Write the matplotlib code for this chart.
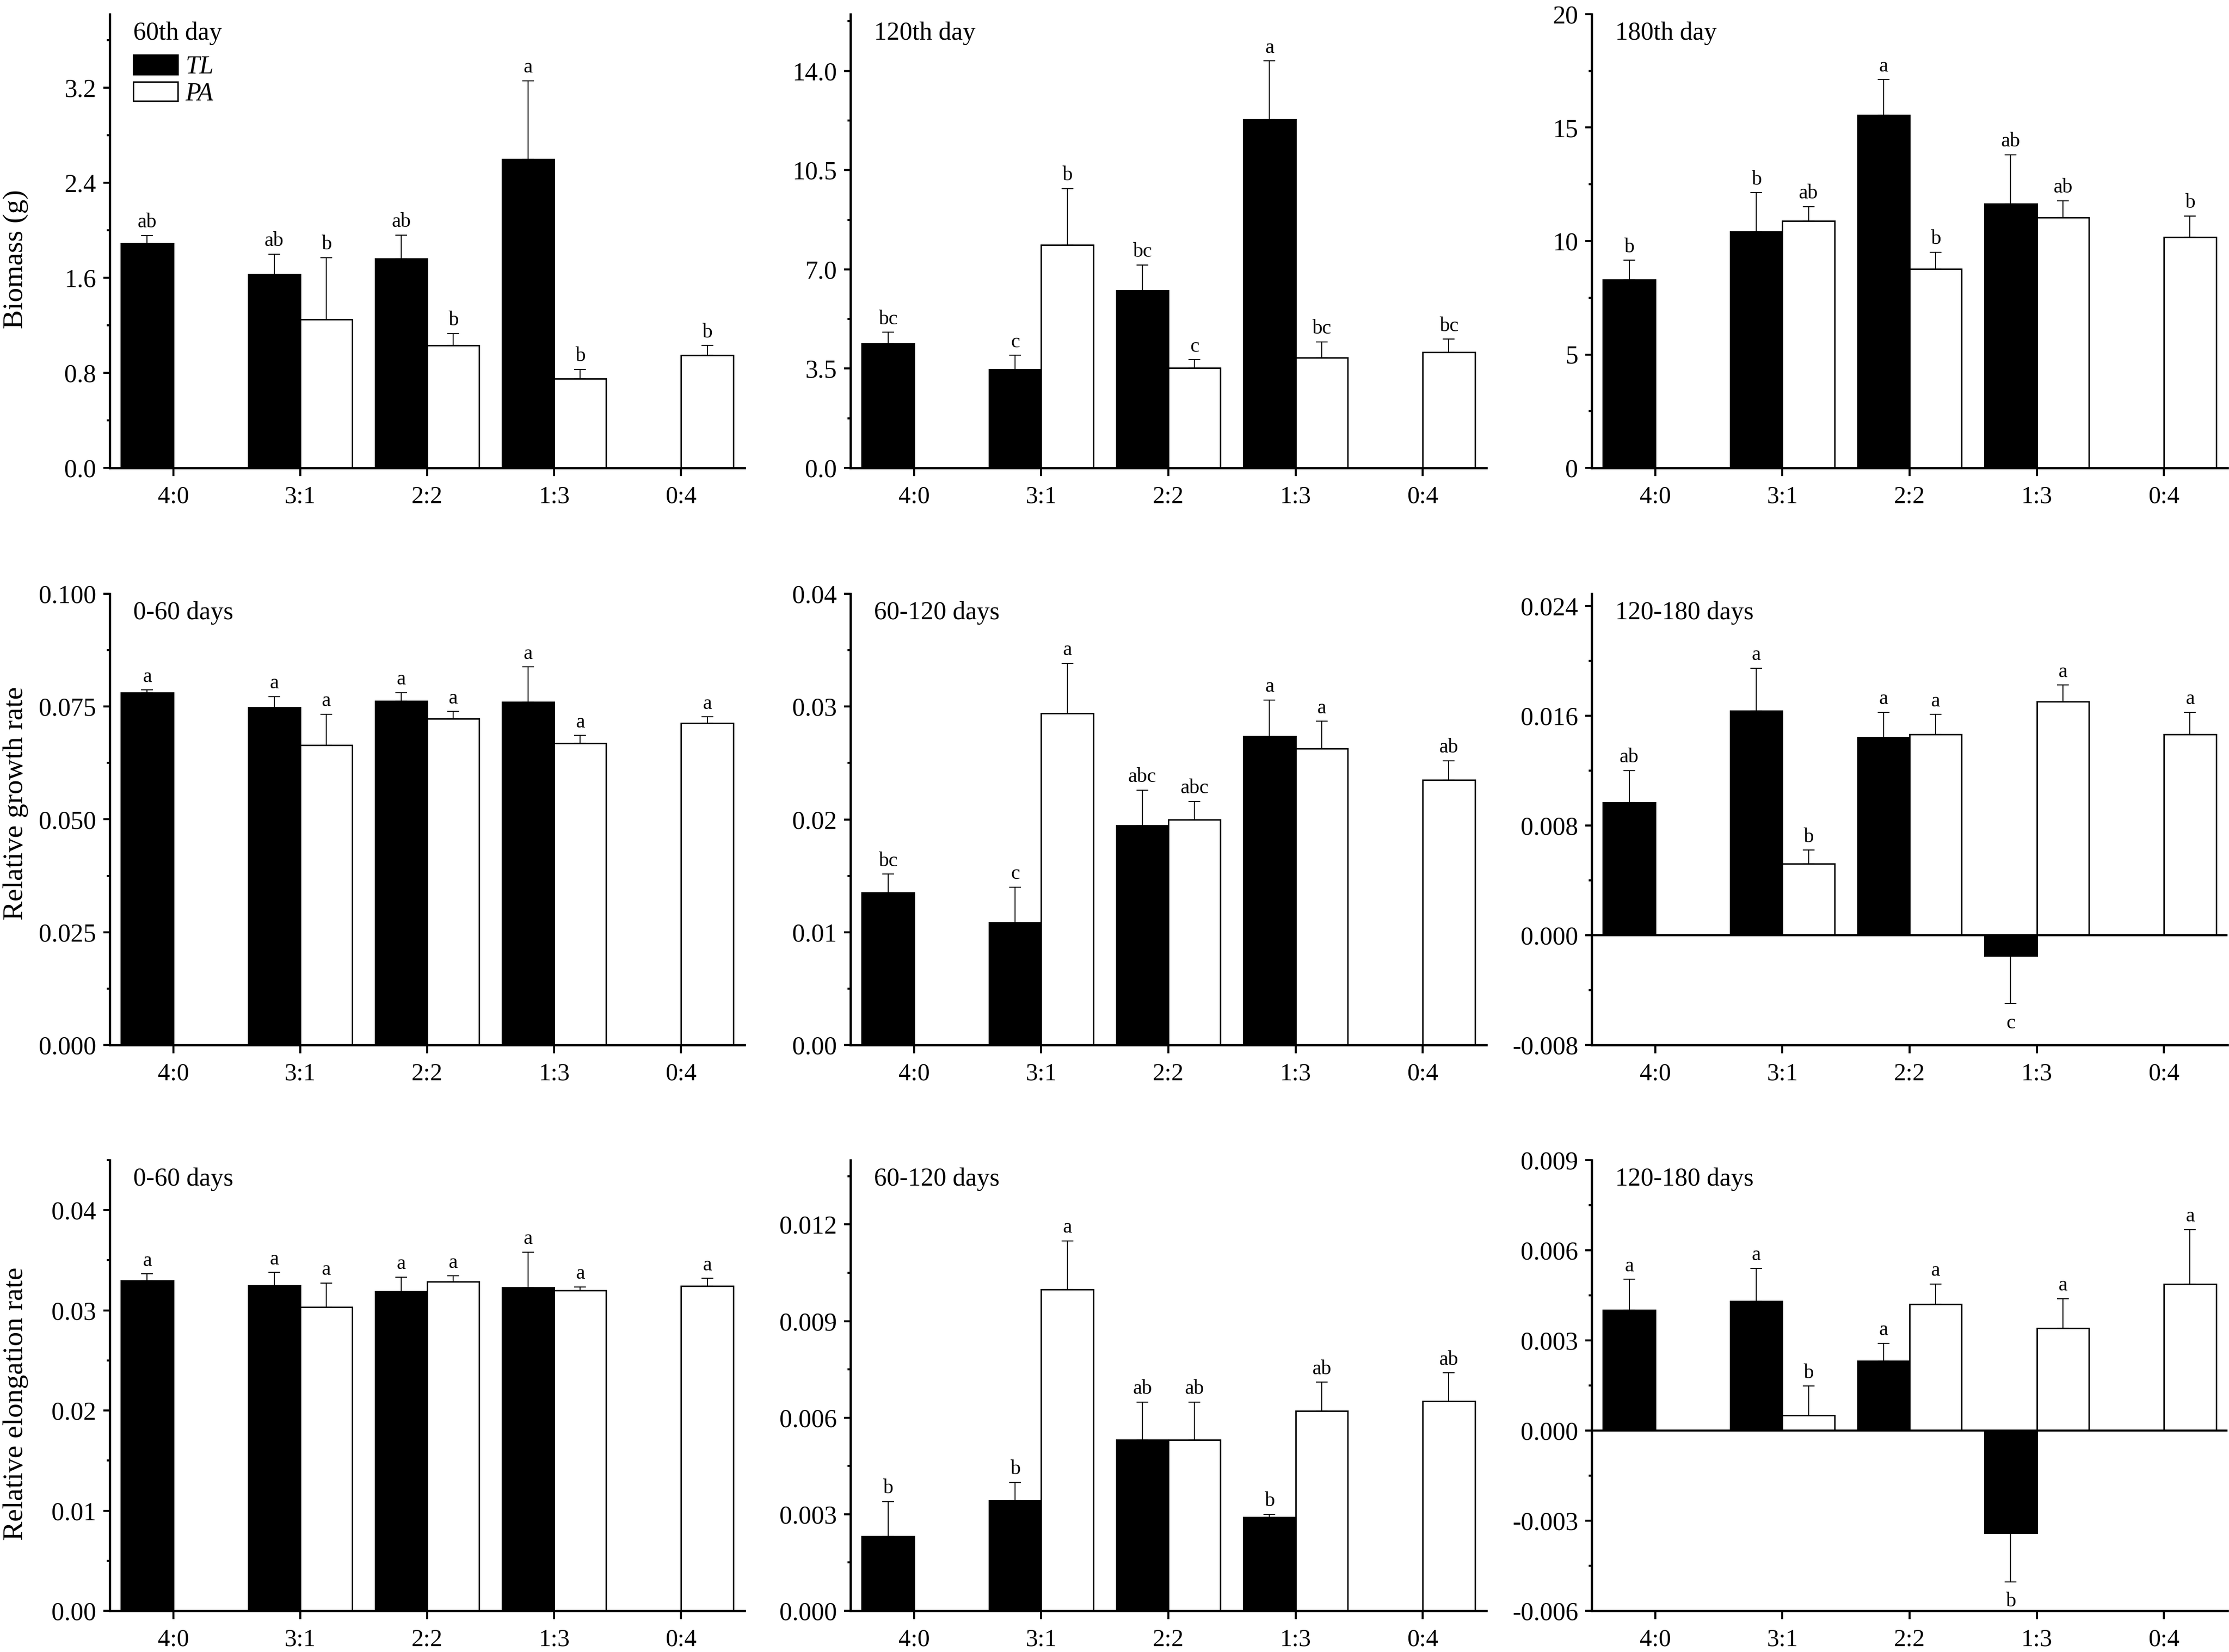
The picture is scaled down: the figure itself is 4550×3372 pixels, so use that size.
"""
Biomass, relative growth rate and relative elongation rate of TL and PA
under the five planting ratios (3 x 3 panel figure).
"""
import numpy as np
import matplotlib
matplotlib.use('Agg')
import matplotlib.pyplot as plt
from matplotlib.patches import Patch
from matplotlib.ticker import MultipleLocator, FormatStrFormatter

plt.rcParams['font.family'] = ['Liberation Serif', 'DejaVu Serif']

NAN = np.nan
CATEGORIES = ['4:0', '3:1', '2:2', '1:3', '0:4']

# ---- row 1: biomass (g) ----
TL_BIO_60 = [1.89, 1.63, 1.76, 2.60, NAN]
TL_BIO_60_ERR = [0.065, 0.17, 0.20, 0.66, NAN]
TL_BIO_60_SIG = ['ab', 'ab', 'ab', 'a', '']
PA_BIO_60 = [NAN, 1.25, 1.03, 0.75, 0.95]
PA_BIO_60_ERR = [NAN, 0.52, 0.10, 0.08, 0.08]
PA_BIO_60_SIG = ['', 'b', 'b', 'b', 'b']

TL_BIO_120 = [4.39, 3.47, 6.25, 12.29, NAN]
TL_BIO_120_ERR = [0.39, 0.50, 0.91, 2.06, NAN]
TL_BIO_120_SIG = ['bc', 'c', 'bc', 'a', '']
PA_BIO_120 = [NAN, 7.87, 3.53, 3.88, 4.08]
PA_BIO_120_ERR = [NAN, 1.98, 0.28, 0.56, 0.46]
PA_BIO_120_SIG = ['', 'b', 'c', 'bc', 'bc']

TL_BIO_180 = [8.29, 10.41, 15.55, 11.65, NAN]
TL_BIO_180_ERR = [0.86, 1.72, 1.57, 2.15, NAN]
TL_BIO_180_SIG = ['b', 'b', 'a', 'ab', '']
PA_BIO_180 = [NAN, 10.88, 8.76, 11.04, 10.18]
PA_BIO_180_ERR = [NAN, 0.64, 0.75, 0.74, 0.93]
PA_BIO_180_SIG = ['', 'ab', 'b', 'ab', 'b']

# ---- row 2: relative growth rate ----
TL_RGR_1 = [0.0781, 0.0748, 0.0762, 0.0760, NAN]
TL_RGR_1_ERR = [0.0006, 0.0024, 0.0019, 0.0078, NAN]
TL_RGR_1_SIG = ['a', 'a', 'a', 'a', '']
PA_RGR_1 = [NAN, 0.0665, 0.0723, 0.0669, 0.0713]
PA_RGR_1_ERR = [NAN, 0.0068, 0.0016, 0.0017, 0.0014]
PA_RGR_1_SIG = ['', 'a', 'a', 'a', 'a']

TL_RGR_2 = [0.01351, 0.01084, 0.01944, 0.02735, NAN]
TL_RGR_2_ERR = [0.00163, 0.00316, 0.00316, 0.00322, NAN]
TL_RGR_2_SIG = ['bc', 'c', 'abc', 'a', '']
PA_RGR_2 = [NAN, 0.02939, 0.01998, 0.02626, 0.02349]
PA_RGR_2_ERR = [NAN, 0.00446, 0.00160, 0.00243, 0.00172]
PA_RGR_2_SIG = ['', 'a', 'abc', 'a', 'ab']

TL_RGR_3 = [0.00968, 0.01638, 0.01445, -0.00149, NAN]
TL_RGR_3_ERR = [0.00233, 0.00309, 0.00180, 0.00348, NAN]
TL_RGR_3_SIG = ['ab', 'a', 'a', 'c', '']
PA_RGR_3 = [NAN, 0.00521, 0.01466, 0.01704, 0.01466]
PA_RGR_3_ERR = [NAN, 0.00100, 0.00144, 0.00120, 0.00159]
PA_RGR_3_SIG = ['', 'b', 'a', 'a', 'a']

# ---- row 3: relative elongation rate ----
TL_RER_1 = [0.03296, 0.03248, 0.03190, 0.03228, NAN]
TL_RER_1_ERR = [0.00068, 0.00130, 0.00143, 0.00354, NAN]
TL_RER_1_SIG = ['a', 'a', 'a', 'a', '']
PA_RER_1 = [NAN, 0.03034, 0.03286, 0.03201, 0.03245]
PA_RER_1_ERR = [NAN, 0.00238, 0.00058, 0.00034, 0.00075]
PA_RER_1_SIG = ['', 'a', 'a', 'a', 'a']

TL_RER_2 = [0.00232, 0.00343, 0.00531, 0.00291, NAN]
TL_RER_2_ERR = [0.00108, 0.00056, 0.00118, 0.00009, NAN]
TL_RER_2_SIG = ['b', 'b', 'ab', 'b', '']
PA_RER_2 = [NAN, 0.00999, 0.00531, 0.00621, 0.00651]
PA_RER_2_ERR = [NAN, 0.00150, 0.00118, 0.00089, 0.00088]
PA_RER_2_SIG = ['', 'a', 'ab', 'ab', 'ab']

TL_RER_3 = [0.00401, 0.00430, 0.00231, -0.00341, NAN]
TL_RER_3_ERR = [0.00102, 0.00110, 0.00060, 0.00162, NAN]
TL_RER_3_SIG = ['a', 'a', 'a', 'b', '']
PA_RER_3 = [NAN, 0.00050, 0.00420, 0.00340, 0.00488]
PA_RER_3_ERR = [NAN, 0.00098, 0.00068, 0.00099, 0.00181]
PA_RER_3_SIG = ['', 'b', 'a', 'a', 'a']

ROW_LABELS = ['Biomass (g)', 'Relative growth rate', 'Relative elongation rate']
PANEL_TITLES = [['60th day', '120th day', '180th day'],
                ['0-60 days', '60-120 days', '120-180 days'],
                ['0-60 days', '60-120 days', '120-180 days']]

# axis settings: (ylim, major step, minor step, tick format)
AXIS_SETTINGS = [
    [((0, 3.82), 0.8, 0.4, '%.1f'), ((0, 16.0), 3.5, 1.75, '%.1f'), ((0, 20), 5, 2.5, '%d')],
    [((0, 0.1), 0.025, 0.0125, '%.3f'), ((0, 0.04), 0.01, 0.005, '%.2f'),
     ((-0.008, 0.0249), 0.008, 0.004, '%.3f')],
    [((0, 0.045), 0.01, 0.005, '%.2f'), ((0, 0.014), 0.003, 0.0015, '%.3f'),
     ((-0.006, 0.009), 0.003, 0.0015, '%.3f')],
]

PANEL_DATA = [
    [(TL_BIO_60, TL_BIO_60_ERR, TL_BIO_60_SIG, PA_BIO_60, PA_BIO_60_ERR, PA_BIO_60_SIG),
     (TL_BIO_120, TL_BIO_120_ERR, TL_BIO_120_SIG, PA_BIO_120, PA_BIO_120_ERR, PA_BIO_120_SIG),
     (TL_BIO_180, TL_BIO_180_ERR, TL_BIO_180_SIG, PA_BIO_180, PA_BIO_180_ERR, PA_BIO_180_SIG)],
    [(TL_RGR_1, TL_RGR_1_ERR, TL_RGR_1_SIG, PA_RGR_1, PA_RGR_1_ERR, PA_RGR_1_SIG),
     (TL_RGR_2, TL_RGR_2_ERR, TL_RGR_2_SIG, PA_RGR_2, PA_RGR_2_ERR, PA_RGR_2_SIG),
     (TL_RGR_3, TL_RGR_3_ERR, TL_RGR_3_SIG, PA_RGR_3, PA_RGR_3_ERR, PA_RGR_3_SIG)],
    [(TL_RER_1, TL_RER_1_ERR, TL_RER_1_SIG, PA_RER_1, PA_RER_1_ERR, PA_RER_1_SIG),
     (TL_RER_2, TL_RER_2_ERR, TL_RER_2_SIG, PA_RER_2, PA_RER_2_ERR, PA_RER_2_SIG),
     (TL_RER_3, TL_RER_3_ERR, TL_RER_3_SIG, PA_RER_3, PA_RER_3_ERR, PA_RER_3_SIG)],
]

FIG_W, FIG_H, DPI = 4550, 3372, 300
COL_LEFT = [224, 1736, 3249]
COL_WIDTH = [1296, 1298, 1298]
ROW_TOP = [29, 1212, 2368]
ROW_HEIGHT = [926, 921, 920]
YLABEL_Y = [0.46, 0.536, 0.46]

BAR_WIDTH = 0.41
TICK_SIZE = 12.5
XTICK_SIZE = 12
LETTER_SIZE = 10


def draw_series(ax, x, values, errors, letters, color):
    values = np.array(values, dtype=float)
    errors = np.array(errors, dtype=float)
    keep = ~np.isnan(values)
    xs, vs, es = x[keep], values[keep], errors[keep]
    ax.bar(xs, vs, BAR_WIDTH, color=color, edgecolor='black', linewidth=0.7, zorder=2)
    lower = np.where(vs < 0, es, 0)
    upper = np.where(vs < 0, 0, es)
    ax.errorbar(xs, vs, yerr=[lower, upper], fmt='none', ecolor='black',
                elinewidth=0.5, capsize=2.8, capthick=0.5, zorder=3)
    for xi, vi, ei, letter in zip(xs, vs, es, np.array(letters)[keep]):
        if vi < 0:
            ax.annotate(letter, (xi, vi - ei), xytext=(0, -5), textcoords='offset points',
                        ha='center', va='top', fontsize=LETTER_SIZE)
        else:
            ax.annotate(letter, (xi, vi + ei), xytext=(0, 4), textcoords='offset points',
                        ha='center', va='baseline', fontsize=LETTER_SIZE)


def draw_panel(ax, data, settings, title):
    tl, tl_err, tl_sig, pa, pa_err, pa_sig = data
    (ylim, major, minor, fmt) = settings
    x = np.arange(len(CATEGORIES))
    draw_series(ax, x - BAR_WIDTH / 2, tl, tl_err, tl_sig, 'black')
    draw_series(ax, x + BAR_WIDTH / 2, pa, pa_err, pa_sig, 'white')

    if ylim[0] < 0:
        ax.axhline(0, color='black', linewidth=1.0, zorder=4)

    ax.set_xlim(-0.5, 4.5)
    ax.set_ylim(*ylim)
    ax.set_xticks(x)
    ax.set_xticklabels(CATEGORIES)
    ax.yaxis.set_major_locator(MultipleLocator(major))
    ax.yaxis.set_minor_locator(MultipleLocator(minor))
    ax.yaxis.set_major_formatter(FormatStrFormatter(fmt))

    for side in ['top', 'right']:
        ax.spines[side].set_visible(False)
    for side in ['left', 'bottom']:
        ax.spines[side].set_linewidth(1.1)
    ax.tick_params(axis='y', which='major', direction='out', length=3.2, width=1.0,
                   labelsize=TICK_SIZE, pad=3.4)
    ax.tick_params(axis='y', which='minor', direction='out', length=1.5, width=1.0)
    ax.tick_params(axis='x', which='major', direction='out', length=4, width=1.0,
                   labelsize=XTICK_SIZE, pad=4.6)
    ax.tick_params(axis='x', which='minor', bottom=False)

    ax.text(0.037, 0.944, title, transform=ax.transAxes, fontsize=TICK_SIZE,
            ha='left', va='baseline')


def generate_figure():
    fig = plt.figure(figsize=(FIG_W / DPI, FIG_H / DPI), dpi=DPI)
    for row in range(3):
        for col in range(3):
            rect = [COL_LEFT[col] / FIG_W,
                    1 - (ROW_TOP[row] + ROW_HEIGHT[row]) / FIG_H,
                    COL_WIDTH[col] / FIG_W,
                    ROW_HEIGHT[row] / FIG_H]
            ax = fig.add_axes(rect)
            draw_panel(ax, PANEL_DATA[row][col], AXIS_SETTINGS[row][col],
                       PANEL_TITLES[row][col])
            if col == 0:
                ax.set_ylabel(ROW_LABELS[row], fontsize=14)
                ax.yaxis.set_label_coords(-0.128, YLABEL_Y[row])
            if row == 0 and col == 0:
                handles = [Patch(facecolor='black', edgecolor='black', linewidth=0.7),
                           Patch(facecolor='white', edgecolor='black', linewidth=0.7)]
                ax.legend(handles, ['TL', 'PA'], loc='upper left',
                          bbox_to_anchor=(0.037, 0.91), borderaxespad=0, borderpad=0,
                          frameon=False, handlelength=1.75, handleheight=0.8,
                          labelspacing=0.1, handletextpad=0.3,
                          prop={'style': 'italic', 'size': TICK_SIZE})
    fig.savefig('out.png', dpi=DPI)


if __name__ == '__main__':
    generate_figure()
